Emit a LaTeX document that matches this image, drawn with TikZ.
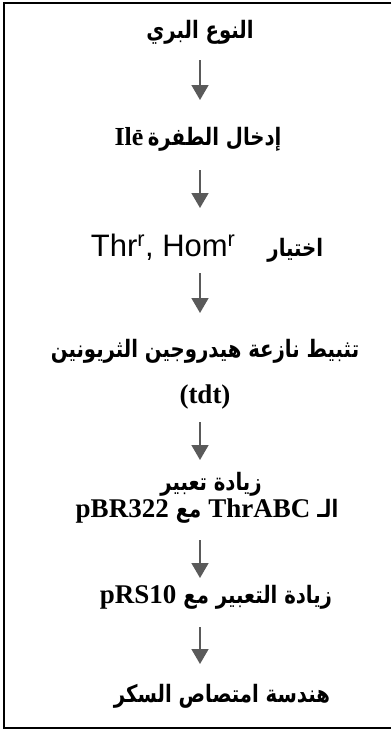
\documentclass[tikz,border=0pt]{standalone}
\usepackage{fontspec}
\usetikzlibrary{arrows.meta}
\TeXXeTstate=1
\newfontfamily\arab[Script=Arabic,FakeStretch=0.82]{DejaVu Sans}
\newfontfamily\serifL{Liberation Serif}
\newfontfamily\sansL{Liberation Sans}
\newcommand\artxt[1]{{\arab\bfseries\fontsize{24}{28}\selectfont\beginR #1\endR}}
\newcommand\lat[1]{{\serifL\bfseries\fontsize{27}{30}\selectfont #1}}
\definecolor{arrgray}{HTML}{5A5A5A}
\tikzset{
  lbl/.style={anchor=base, inner sep=0pt, text=black},
  arr/.style={draw=arrgray, line width=1.6pt, -{Triangle[width=17pt,length=15pt]}, fill=arrgray},
  frame/.style={draw=black, line width=2pt}
}
\begin{document}
\begin{tikzpicture}[x=1pt,y=-1pt]
\useasboundingbox (0,0) rectangle (391,731);
\draw[frame] (391,3) -- (4,3) -- (4,728) -- (391,728);

\node[lbl] (n1) at (200,38) {\artxt{النوع البري}};
\node[lbl] (n2) at (198,145) {\beginR\artxt{إدخال الطفرة}\hspace{3pt}\beginL{\serifL\bfseries\fontsize{26}{30}\selectfont Ile\kern-0.3em\textsuperscript{-}\kern0.1em}\endL\endR};
\node[lbl] (n3) at (207,256) {\beginR\artxt{اختيار}\hspace{32pt}\beginL{\sansL\fontsize{31}{34}\selectfont Thr\textsuperscript{r}, Hom\textsuperscript{r}}\endL\endR};
\node[lbl] (n4) at (205,357) {\artxt{تثبيط نازعة هيدروجين الثريونين}};
\node[lbl] (n5) at (205,403) {\lat{(tdt)}};
\node[lbl] (n6) at (211,490) {\artxt{زيادة تعبير}};
\node[lbl] (n7) at (207,517) {\beginR\artxt{الـ}\hspace{7pt}\beginL\lat{ThrABC}\endL\hspace{7pt}\artxt{مع}\hspace{7pt}\beginL\lat{pBR322}\endL\endR};
\node[lbl] (n8) at (216,603) {\beginR\artxt{زيادة التعبير مع}\hspace{7pt}\beginL\lat{pRS10}\endL\endR};
\node[lbl] (n9) at (222,702) {\artxt{هندسة امتصاص السكر}};

\coordinate (a1s) at (200,60);  \coordinate (a1e) at (200,100);
\coordinate (a2s) at (200,170); \coordinate (a2e) at (200,208);
\coordinate (a3s) at (200,273); \coordinate (a3e) at (200,313);
\coordinate (a4s) at (200,422); \coordinate (a4e) at (200,460);
\coordinate (a5s) at (200,540); \coordinate (a5e) at (200,578);
\coordinate (a6s) at (200,627); \coordinate (a6e) at (200,664);
\foreach \i in {1,...,6} { \draw[arr] (a\i s) -- (a\i e); }
\end{tikzpicture}
\end{document}
